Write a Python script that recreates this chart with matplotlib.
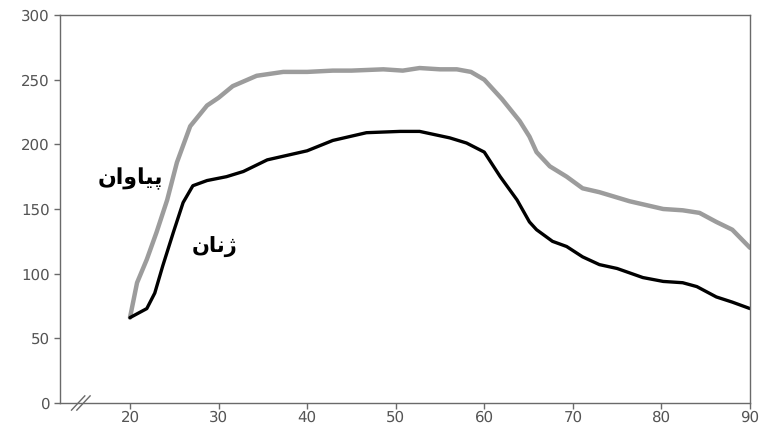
import matplotlib
matplotlib.use("Agg")
import matplotlib.pyplot as plt
import numpy as np

plt.rcParams['text.hinting'] = 'no_hinting'
plt.rcParams['text.hinting_factor'] = 1

# men (gray) and women (black)
men_age = [20, 20.8, 21.9, 23, 24.2, 25.3, 26.8, 28.7, 30, 31.6, 34.3, 37.3, 40,
           42.9, 45, 48.6, 50.8, 52.7, 55, 56.9, 58.5, 60, 62, 64, 65.1, 65.9,
           67.4, 69.3, 71.1, 73, 76.4, 80.2, 82.4, 84.3, 86.2, 88, 90]
men = [66, 93, 111, 132, 157, 186, 214, 230, 236, 245, 253, 256, 256,
       257, 257, 258, 257, 259, 258, 258, 256, 250, 235, 218, 206, 194,
       183, 175, 166, 163, 156, 150, 149, 147, 140, 134, 120]

women_age = [20, 21.9, 22.8, 23.7, 24.9, 26, 27.1, 28.7, 30.9, 32.8, 35.5, 40,
             42.9, 46.7, 50.5, 52.7, 56.1, 58, 60, 61.8, 63.7, 65.1, 65.9, 67.7,
             69.3, 71.1, 73, 75, 77.9, 80.2, 82.4, 84, 86.2, 88, 90]
women = [66, 73, 85, 106, 132, 155, 168, 172, 175, 179, 188, 195,
         203, 209, 210, 210, 205, 201, 194, 175, 157, 140, 134, 125,
         121, 113, 107, 104, 97, 94, 93, 90, 82, 78, 73]

x_ticks = [20, 30, 40, 50, 60, 70, 80, 90]
y_ticks = [0, 50, 100, 150, 200, 250, 300]

# Kurdish labels, pre-shaped (matplotlib does no Arabic shaping / bidi)
lbl_men = "\uFEE5\uFE8D\uFEED\uFE8E\uFBFF\uFB58"    # پیاوان
lbl_women = "\uFEE5\uFE8E\uFEE7\uFB8A"              # ژنان

fig = plt.figure(figsize=(7.65, 4.26), dpi=100)
ax = fig.add_axes([60/765, 23/426, 690/765, 388/426])

ax.plot(men_age, men, color="#9c9c9c", lw=3.2, solid_capstyle="round")
ax.plot(women_age, women, color="black", lw=2.4, solid_capstyle="round")

ax.set_xlim(12.1, 90)
ax.set_ylim(0, 300)
ax.set_xticks(x_ticks)
ax.set_yticks(y_ticks)

axc = "#6a6a6a"
for s in ax.spines.values():
    s.set_color(axc)
    s.set_linewidth(1.0)
ax.tick_params(colors=axc, labelcolor="#555555", labelsize=11, length=4, width=1)
ax.tick_params(axis="x", pad=1.5)

# axis break marks
for dx in (0, 0.6):
    ax.plot([13.4 + dx, 14.9 + dx], [-5.5, 5.5], color=axc, lw=1.0, clip_on=False)

ax.text(20, 173.5, lbl_men, fontsize=16, fontweight="bold", ha="center", va="center",
        family=["DejaVu Sans"])
ax.text(29.6, 120, lbl_women, fontsize=15, fontweight="bold", ha="center", va="center",
        family=["DejaVu Sans"])

fig.savefig("out.png", dpi=100)
